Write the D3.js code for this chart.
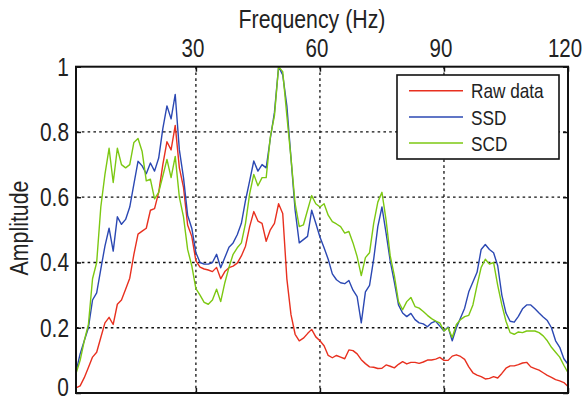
<!DOCTYPE html>
<html>
<head>
<meta charset="utf-8">
<script src="https://cdn.jsdelivr.net/npm/d3@7/dist/d3.min.js"></script>
<style>
  html, body { margin: 0; padding: 0; background: #fff; }
  svg { display: block; }
  text { font-family: "Liberation Sans", Arial, sans-serif; fill: #222; }
</style>
</head>
<body>
<svg id="chart" width="584" height="401"></svg>
<script>
// Frequency axis (Hz), one sample per Hz
const freq = d3.range(1, 121);

// Normalised spectra
const rawData = [
  0.016, 0.022, 0.047, 0.078, 0.110, 0.125, 0.170, 0.215, 0.232, 0.210,
  0.272, 0.285, 0.318, 0.352, 0.425, 0.487, 0.496, 0.505, 0.560, 0.565,
  0.615, 0.700, 0.770, 0.745, 0.820, 0.690, 0.630, 0.515, 0.480, 0.405,
  0.386, 0.380, 0.377, 0.372, 0.385, 0.350, 0.372, 0.384, 0.389, 0.398,
  0.420, 0.450, 0.510, 0.556, 0.527, 0.520, 0.465, 0.500, 0.520, 0.580,
  0.550, 0.350, 0.240, 0.180, 0.160, 0.168, 0.182, 0.195, 0.172, 0.160,
  0.145, 0.115, 0.108, 0.115, 0.110, 0.105, 0.132, 0.130, 0.120, 0.102,
  0.090, 0.080, 0.079, 0.075, 0.076, 0.086, 0.082, 0.077, 0.088, 0.096,
  0.089, 0.094, 0.094, 0.091, 0.095, 0.101, 0.101, 0.104, 0.109, 0.100,
  0.100, 0.113, 0.117, 0.112, 0.103, 0.080, 0.062, 0.055, 0.050, 0.043,
  0.045, 0.050, 0.046, 0.060, 0.076, 0.083, 0.083, 0.087, 0.092, 0.094,
  0.080, 0.075, 0.070, 0.062, 0.054, 0.048, 0.041, 0.037, 0.032, 0.020
];

const ssd = [
  0.065, 0.120, 0.160, 0.200, 0.285, 0.307, 0.380, 0.450, 0.505, 0.435,
  0.540, 0.517, 0.532, 0.570, 0.640, 0.710, 0.696, 0.672, 0.705, 0.680,
  0.720, 0.810, 0.880, 0.840, 0.915, 0.745, 0.660, 0.545, 0.505, 0.430,
  0.400, 0.395, 0.395, 0.400, 0.425, 0.384, 0.415, 0.447, 0.460, 0.485,
  0.520, 0.590, 0.650, 0.711, 0.680, 0.700, 0.690, 0.780, 0.860, 1.000,
  0.975, 0.880, 0.720, 0.560, 0.460, 0.470, 0.480, 0.560, 0.520, 0.478,
  0.445, 0.410, 0.365, 0.347, 0.338, 0.335, 0.345, 0.315, 0.295, 0.215,
  0.310, 0.330, 0.410, 0.510, 0.570, 0.490, 0.405, 0.340, 0.270, 0.245,
  0.234, 0.244, 0.225, 0.215, 0.212, 0.203, 0.215, 0.220, 0.205, 0.190,
  0.202, 0.160, 0.200, 0.230, 0.260, 0.310, 0.340, 0.370, 0.440, 0.455,
  0.440, 0.430, 0.390, 0.300, 0.245, 0.220, 0.217, 0.235, 0.258, 0.270,
  0.270, 0.258, 0.245, 0.233, 0.222, 0.200, 0.160, 0.140, 0.105, 0.088
];

const scd = [
  0.060, 0.100, 0.160, 0.210, 0.350, 0.400, 0.570, 0.670, 0.750, 0.645,
  0.750, 0.700, 0.690, 0.700, 0.768, 0.780, 0.740, 0.650, 0.655, 0.595,
  0.615, 0.665, 0.716, 0.660, 0.725, 0.600, 0.540, 0.440, 0.390, 0.320,
  0.300, 0.278, 0.272, 0.285, 0.318, 0.280, 0.338, 0.385, 0.425, 0.445,
  0.460, 0.520, 0.610, 0.670, 0.635, 0.660, 0.660, 0.785, 0.850, 1.000,
  0.985, 0.850, 0.720, 0.580, 0.510, 0.515, 0.560, 0.605, 0.580, 0.570,
  0.580, 0.545, 0.525, 0.518, 0.510, 0.490, 0.495, 0.460, 0.418, 0.360,
  0.415, 0.430, 0.520, 0.585, 0.615, 0.530, 0.420, 0.360, 0.280, 0.255,
  0.280, 0.293, 0.265, 0.260, 0.250, 0.238, 0.228, 0.220, 0.215, 0.190,
  0.200, 0.170, 0.210, 0.225, 0.234, 0.238, 0.270, 0.330, 0.385, 0.410,
  0.395, 0.400, 0.330, 0.270, 0.220, 0.185, 0.180, 0.187, 0.185, 0.190,
  0.190, 0.190, 0.185, 0.175, 0.160, 0.140, 0.125, 0.110, 0.085, 0.062
];

const seriesNames = ["Raw data", "SSD", "SCD"];
const seriesColors = ["#e8301f", "#2b48b3", "#7cc812"];
const xTicks = [30, 60, 90, 120];
const yTicks = [0, 0.2, 0.4, 0.6, 0.8, 1];

const svg = d3.select("#chart");
const plot = { left: 76, right: 568, top: 66.7, bottom: 393 };
const squeeze = 0.82; // condensed lettering

const x = d3.scaleLinear().domain([1, 120]).range([plot.left, plot.right]);
const y = d3.scaleLinear().domain([0, 1]).range([plot.bottom, plot.top]);

// condensed text helper: anchor point, optional rotation
function label(parent, px, py, str, size, anchor, rotate) {
  return parent.append("text")
    .attr("transform", `translate(${px},${py})` + (rotate ? ` rotate(${rotate})` : "") + ` scale(${squeeze},1)`)
    .attr("text-anchor", anchor)
    .attr("font-size", size)
    .text(str);
}

// dotted grid
const grid = svg.append("g").attr("stroke", "#111").attr("stroke-width", 1.3)
  .attr("stroke-dasharray", "2.6,3.2");
grid.selectAll("line.v").data(xTicks.filter(t => t < 120)).enter().append("line")
  .attr("x1", d => x(d)).attr("x2", d => x(d))
  .attr("y1", plot.top).attr("y2", plot.bottom);
grid.selectAll("line.h").data(yTicks.filter(t => t > 0 && t < 1)).enter().append("line")
  .attr("x1", plot.left).attr("x2", plot.right)
  .attr("y1", d => y(d)).attr("y2", d => y(d));

// spectra
const series = [rawData, ssd, scd];
const line = d3.line().x((d, i) => x(freq[i])).y(d => y(d));
svg.append("g").selectAll("path").data(series).enter().append("path")
  .attr("d", d => line(d))
  .attr("fill", "none")
  .attr("stroke", (d, i) => seriesColors[i])
  .attr("stroke-width", 1.4)
  .attr("stroke-linejoin", "round");

// inward tick marks on all four sides
const topAxis = d3.axisTop(x).tickValues(xTicks).tickSizeInner(-5).tickSizeOuter(0).tickFormat("");
const bottomAxis = d3.axisBottom(x).tickValues(xTicks).tickSizeInner(-5).tickSizeOuter(0).tickFormat("");
const leftAxis = d3.axisLeft(y).tickValues(yTicks).tickSizeInner(-5).tickSizeOuter(0).tickFormat("");
const rightAxis = d3.axisRight(y).tickValues(yTicks).tickSizeInner(-5).tickSizeOuter(0).tickFormat("");
const gTop = svg.append("g").attr("transform", `translate(0,${plot.top})`).call(topAxis);
const gBottom = svg.append("g").attr("transform", `translate(0,${plot.bottom})`).call(bottomAxis);
const gLeft = svg.append("g").attr("transform", `translate(${plot.left},0)`).call(leftAxis);
const gRight = svg.append("g").attr("transform", `translate(${plot.right},0)`).call(rightAxis);
[gTop, gBottom, gLeft, gRight].forEach(g => {
  g.select(".domain").remove();
  g.selectAll(".tick line").attr("stroke", "#111").attr("stroke-width", 1.5);
});

// tick labels
const labels = svg.append("g");
xTicks.forEach(t => label(labels, x(t) - 3, 57, String(t), 25, "middle"));
const yFmt = d => (d === 0 || d === 1) ? String(d) : d3.format(".1f")(d);
yTicks.forEach(t => label(labels, 69, Math.min(y(t), 387) + 9, yFmt(t), 25.5, "end"));

// plot frame
svg.append("rect")
  .attr("x", plot.left).attr("y", plot.top)
  .attr("width", plot.right - plot.left).attr("height", plot.bottom - plot.top)
  .attr("fill", "none").attr("stroke", "#111").attr("stroke-width", 2);

// axis titles
label(svg, 312, 28, "Frequency (Hz)", 26, "middle");
label(svg, 28, 228, "Amplitude", 26, "middle", -90);

// legend
const legend = svg.append("g");
legend.append("rect")
  .attr("x", 397).attr("y", 75).attr("width", 162).attr("height", 84)
  .attr("fill", "#fff").attr("stroke", "#111").attr("stroke-width", 1.6);
const rows = [90.7, 117, 143];
seriesNames.forEach((name, i) => {
  legend.append("line")
    .attr("x1", 409).attr("x2", 463)
    .attr("y1", rows[i]).attr("y2", rows[i])
    .attr("stroke", seriesColors[i]).attr("stroke-width", 1.4);
  label(legend, 471, rows[i] + 7.5, name, 21, "start");
});
</script>
</body>
</html>
